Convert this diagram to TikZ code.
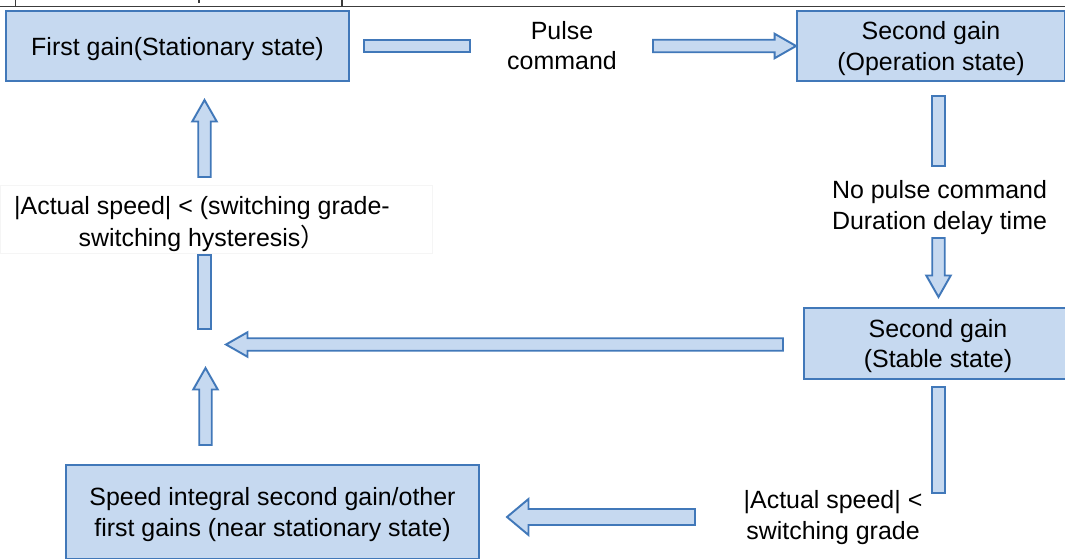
\documentclass[tikz,border=0pt]{standalone}
\usepackage{fontspec}
\setmainfont{Liberation Sans}
\newfontfamily\cjk{Noto Sans CJK SC}
\usetikzlibrary{calc}
\definecolor{boxfill}{RGB}{198,217,240}
\definecolor{boxline}{RGB}{65,120,185}
\definecolor{rulecol}{RGB}{60,60,60}

% block arrow sizes
\def\shaftw{0.125cm}
\def\headw{0.245cm}
\def\headl{0.43cm}
% flat bar between two points (arrow body without head)
\newcommand\blockbar[2]{%
  \draw[barr] ($(#1)!\shaftw!90:(#2)$) -- ($(#2)!\shaftw!-90:(#1)$)
    -- ($(#2)!\shaftw!90:(#1)$) -- ($(#1)!\shaftw!-90:(#2)$) -- cycle;}
% block arrow from #1 to #2
\newcommand\blockarrow[2]{%
  \coordinate (hb) at ($(#2)!\headl!(#1)$);
  \draw[barr] ($(#1)!\shaftw!90:(#2)$) -- ($(hb)!\shaftw!90:(#2)$)
    -- ($(hb)!\headw!90:(#2)$) -- (#2) -- ($(hb)!\headw!-90:(#2)$)
    -- ($(hb)!\shaftw!-90:(#2)$) -- ($(#1)!\shaftw!-90:(#2)$) -- cycle;}

\begin{document}
\begin{tikzpicture}[
    x=0.02cm, y=-0.02cm,
    font=\fontsize{14.2}{17.4}\selectfont,
    gainbox/.style={draw=boxline, fill=boxfill, line width=1.1pt,
                    minimum width=#1, minimum height=1.4cm,
                    align=center, inner sep=0pt, text depth=0pt},
    gainbox/.default=5.36cm,
    cond/.style={align=center, inner sep=0pt, text depth=0pt},
    barr/.style={draw=boxline, fill=boxfill, line width=1.1pt, line join=miter},
]
\useasboundingbox (0,0) rectangle (1065,558);
\clip (0,0) rectangle (1065,558);

% ============ cut-off table rule at the top ============
\draw[rulecol, line width=0.9pt] (0,6.5) -- (1065,6.5);
\draw[rulecol, line width=0.6pt] (15.5,0) -- (15.5,6.5) (342,0) -- (342,6.5)
  (199,0) -- (199,3);

% ============ GAIN STATES ============
\node[gainbox=6.86cm] (gainfirst) at (177.5,46) {First gain(Stationary state)};
\node[gainbox] (gainop) at (931,46) {Second gain\\(Operation state)};
\node[gainbox, minimum height=1.42cm] (gainstab) at (938,343.5)
  {Second gain\\(Stable state)};
\node[gainbox=8.26cm, minimum height=1.88cm] (gainnear) at (272.5,512)
  {Speed integral second gain/other\\first gains (near stationary state)};

% ============ SWITCHING CONDITIONS ============
\node[cond] (lblpulse) at (562,45.5) {Pulse\\command};
\node[cond] (lbldelay) at (939.5,205) {No pulse command\\Duration delay time};
\node[cond] (lblgrade) at (833,515) {|Actual speed| <\\switching grade};
\draw[black!4, line width=0.4pt] (0,185) rectangle (432,253);
\node[cond, font=\fontsize{14.2}{18.2}\selectfont] (lblhyst) at (202,221)
  {|Actual speed| < (switching grade-\\switching hysteresis{\cjk ）}};

% ============ ARROWS ============
\coordinate (pulseA) at (364,46);
\coordinate (pulseB) at (470,46);
\coordinate (pulseC) at (653,46);
\blockbar{pulseA}{pulseB}
\blockarrow{pulseC}{gainop.west}

\coordinate (delayA) at (938.5,96);
\coordinate (delayB) at (938.5,166);
\coordinate (delayC) at (938.5,238);
\coordinate (delayD) at (938.5,297);
\blockbar{delayA}{delayB}
\blockarrow{delayC}{delayD}

\coordinate (gradeA) at (938.5,387);
\coordinate (gradeB) at (938.5,493);
\blockbar{gradeA}{gradeB}

\coordinate (nearA) at (695,517);
\coordinate (nearB) at (507,517);
{\def\shaftw{0.16cm}\def\headw{0.36cm}
 \blockarrow{nearA}{nearB}}

\coordinate (backA) at (783,344.5);
\coordinate (backB) at (226,344.5);
\blockarrow{backA}{backB}

\coordinate (upA) at (205.5,445);
\coordinate (upB) at (205.5,368);
\blockarrow{upA}{upB}

\coordinate (hystA) at (204.5,329);
\coordinate (hystB) at (204.5,255);
\coordinate (hystC) at (204.5,177);
\coordinate (hystD) at (204.5,100);
\blockbar{hystA}{hystB}
\blockarrow{hystC}{hystD}

\end{tikzpicture}
\end{document}
